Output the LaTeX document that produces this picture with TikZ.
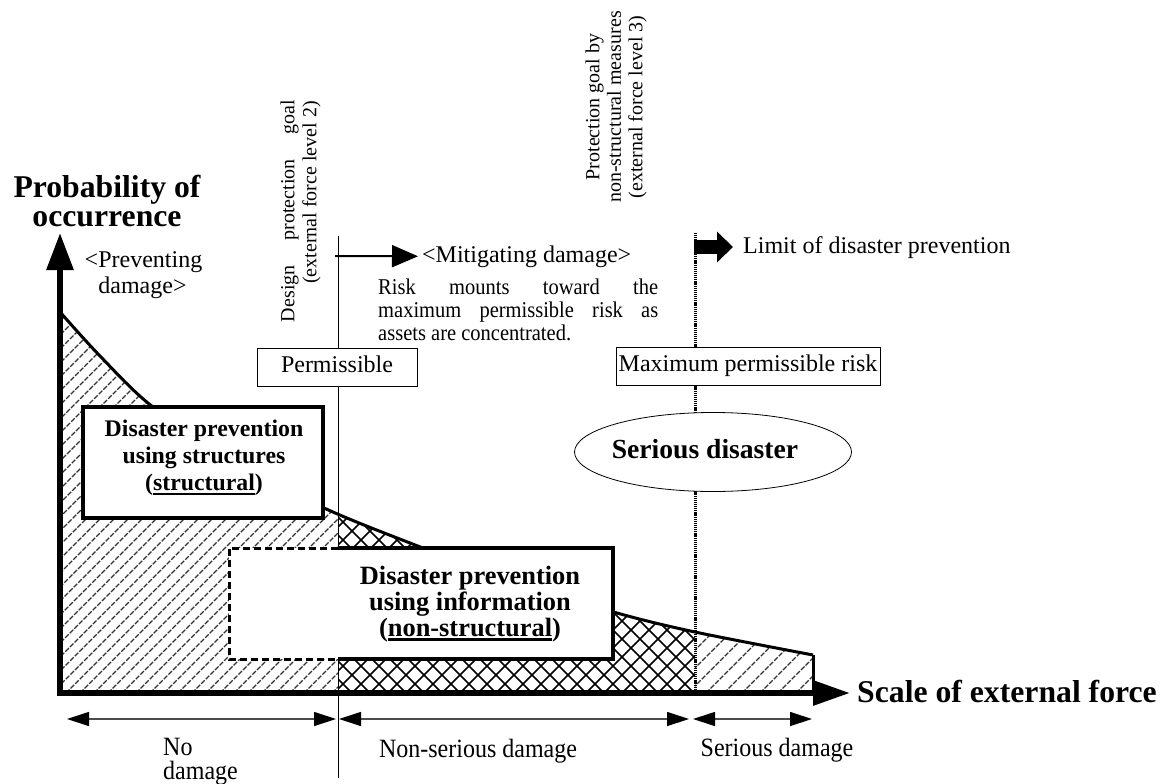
\documentclass[tikz,border=0pt]{standalone}
\usepackage{graphicx}
\usepackage{fontspec}
\setmainfont{Liberation Serif}
\usetikzlibrary{arrows.meta,shapes.geometric}
\newcommand{\myul}[1]{\begingroup\setbox0\hbox{#1}\rlap{\rule[-4.5pt]{\wd0}{2.4pt}}\box0\endgroup}
\newcommand{\vstretch}[1]{\scalebox{1}[1.1]{#1}}
\begin{document}
\begin{tikzpicture}[x=1pt,y=-1pt,
  rg/.style={inner sep=0pt, font=\fontsize{24}{28.8}\selectfont},
  sm/.style={inner sep=0pt, font=\fontsize{20}{22}\selectfont},
  rk/.style={inner sep=0pt, font=\fontsize{20.5}{23}\selectfont},
  bigb/.style={inner sep=0pt, font=\bfseries\fontsize{31.7}{29}\selectfont},
  sb/.style={inner sep=0pt, font=\bfseries\fontsize{23.8}{27}\selectfont},
  nb/.style={inner sep=0pt, font=\bfseries\fontsize{26.4}{26}\selectfont},
  eb/.style={inner sep=0pt, font=\bfseries\fontsize{27.6}{30}\selectfont},
  labelbox/.style={draw, line width=1pt, fill=white, inner sep=0pt, minimum height=38pt, font=\fontsize{24}{28.8}\selectfont},
  hatchln/.style={line width=1.1pt, black!80, dash pattern=on 5pt off 1.5pt},
  xln/.style={line width=1.5pt, black},
  curveln/.style={line width=3pt, black},
  dotln/.style={line width=3pt, dash pattern=on 1.2pt off 0.9pt},
  axisln/.style={line width=6pt, line join=miter},
  dimln/.style={line width=1.2pt, black!70, {Triangle[length=22pt,width=14pt,color=black]}-{Triangle[length=22pt,width=14pt,color=black]}},
  mitarrow/.style={line width=2pt, -{Triangle[length=26pt,width=22pt]}},
  limarrow/.style={line width=14pt, -{Triangle[length=16pt,width=30pt]}}
]
\useasboundingbox (0,0) rectangle (1164,784);

% ---------- hatched areas under the curve ----------
\begin{scope}
  \clip (60,693) -- plot[smooth] coordinates {(60,312) (100,356) (153,407) (240,462) (322,507) (410,543) (510,580) (617,613) (695,632) (813,655)} -- (813,693) -- cycle;
  \begin{scope}
    \clip (55,290) rectangle (338,700);
    \foreach \c in {-340,-326,...,340} \draw[hatchln] (\c,693) -- ++(420,-420);
  \end{scope}
  \begin{scope}
    \clip (338,480) rectangle (695,700);
    \foreach \c in {100,118,...,1000} {
      \draw[xln] (\c,693) -- ++(-300,-300);
      \draw[xln] (\c,693) -- ++(300,-300);
    }
  \end{scope}
  \begin{scope}
    \clip (695,600) rectangle (813,700);
    \foreach \c in {616,634,...,814} \draw[hatchln] (\c,693) -- ++(100,-100);
  \end{scope}
\end{scope}

% curve
\draw[curveln] plot[smooth] coordinates {(60,312) (100,356) (153,407) (240,462) (322,507) (410,543) (510,580) (617,613) (695,632) (813,655)};
\coordinate (rtop) at (813,655);
\coordinate (rbot) at (813,693);
\draw[curveln] (rtop) -- (rbot);

% design line and limit line
\coordinate (dtop) at (338,236);
\coordinate (dbot) at (338,778);
\draw[line width=1pt] (dtop) -- (dbot);
\coordinate (ltop) at (695,233);
\coordinate (lbot) at (695,693);
\draw[dotln] (ltop) -- (lbot);

% structural box
\node[draw, line width=4pt, fill=white, minimum width=240pt, minimum height=111pt, inner sep=0pt] (sbox) at (203,462.5) {};
\node[sb, anchor=base] (s1) at (204,436) {Disaster prevention};
\node[sb, anchor=base] (s2) at (204,463) {using structures};
\node[sb, anchor=base] (s3) at (204,490.5) {(\myul{structural})};

% non-structural box
\coordinate (nA) at (338,548);
\coordinate (nB) at (229,548);
\coordinate (nC) at (229,659);
\coordinate (nD) at (338,659);
\coordinate (nE) at (613,548);
\coordinate (nF) at (613,659);
\fill[white] (nB) rectangle (nF);
\draw[line width=3pt, dash pattern=on 7pt off 4pt] (nA) -- (nB) -- (nC) -- (nD);
\draw[line width=4.5pt, line join=miter] (nA) -- (nE) -- (nF) -- (nD);
\node[nb, anchor=base] (n1) at (470,584) {Disaster prevention};
\node[nb, anchor=base] (n2) at (470,610) {using information};
\node[nb, anchor=base] (n3) at (470,636) {(\myul{non-structural})};

% label boxes and ellipse
\node[labelbox, minimum width=160pt] (perm) at (337,367) {\strut Permissible};
\node[labelbox, minimum width=264pt] (maxr) at (748,366) {\strut Maximum permissible risk};
\node[draw, ellipse, line width=0.8pt, fill=white, minimum width=277pt, minimum height=79pt, inner sep=0pt] (sdis) at (713,452) {};
\node[eb, anchor=base] (sdtext) at (705,458) {Serious disaster};

% axes
\coordinate (ytip) at (60,233);
\coordinate (origin) at (60,693);
\coordinate (xtip) at (850,693);
\draw[axisln, {Triangle[length=37pt,width=26pt]}-{Triangle[length=37pt,width=24pt]}] (ytip) -- (origin) -- (xtip);

% axis titles
\node[bigb, anchor=base] (prob1) at (107,197) {Probability of};
\node[bigb, anchor=base] (prob2) at (107,226) {occurrence};
\node[bigb, anchor=base west] (scale) at (857,702) {Scale of external force};

% preventing damage
\node[rg, anchor=base] (prev1) at (143.5,267) {<Preventing};
\node[rg, anchor=base] (prev2) at (142.5,293) {damage>};

% vertical labels
\node[sm, rotate=90, anchor=mid] (dpg1) at (292,211) {\makebox[222pt][s]{Design protection goal}};
\node[sm, rotate=90, anchor=mid] (dpg2) at (314,192.5) {(external force level 2)};
\node[sm, rotate=90, anchor=mid] (pg1) at (597,107) {Protection goal by};
\node[sm, rotate=90, anchor=mid] (pg2) at (618.5,107) {non-structural measures};
\node[sm, rotate=90, anchor=mid] (pg3) at (640,107) {(external force level 3)};

% mitigating damage
\node[rg, anchor=base west] (mitig) at (422,262) {<Mitigating damage>};
\coordinate (mitS) at (335,256);
\draw[mitarrow] (mitS) -- ([xshift=-4pt]mitig.west);
\node[rk, anchor=base west] (risk1) at (378,294) {\vstretch{\makebox[280pt][s]{Risk mounts toward the}}};
\node[rk, anchor=base west] (risk2) at (378,317) {\vstretch{\makebox[280pt][s]{maximum permissible risk as}}};
\node[rk, anchor=base west] (risk3) at (378,340) {\vstretch{assets are concentrated.}};

% limit of disaster prevention
\node[rg, anchor=base west] (limit) at (743,253) {Limit of disaster prevention};
\coordinate (limS) at (694,247);
\coordinate (limE) at (733,247);
\draw[limarrow] (limS) -- (limE);

% dimension lines
\coordinate (d1a) at (67,719);
\coordinate (d1b) at (336,719);
\coordinate (d2a) at (339,719);
\coordinate (d2b) at (689,719);
\coordinate (d3a) at (693,719);
\coordinate (d3b) at (812,719);
\draw[dimln] (d1a) -- (d1b);
\draw[dimln] (d2a) -- (d2b);
\draw[dimln] (d3a) -- (d3b);

\node[rg, anchor=base west] (nod1) at (163,755) {\vstretch{No}};
\node[rg, anchor=base west] (nod2) at (163,779) {\vstretch{damage}};
\node[rg, anchor=base] (nsd) at (478,757) {\vstretch{Non-serious damage}};
\node[rg, anchor=base] (sd) at (777,756) {\vstretch{Serious damage}};
\end{tikzpicture}
\end{document}
